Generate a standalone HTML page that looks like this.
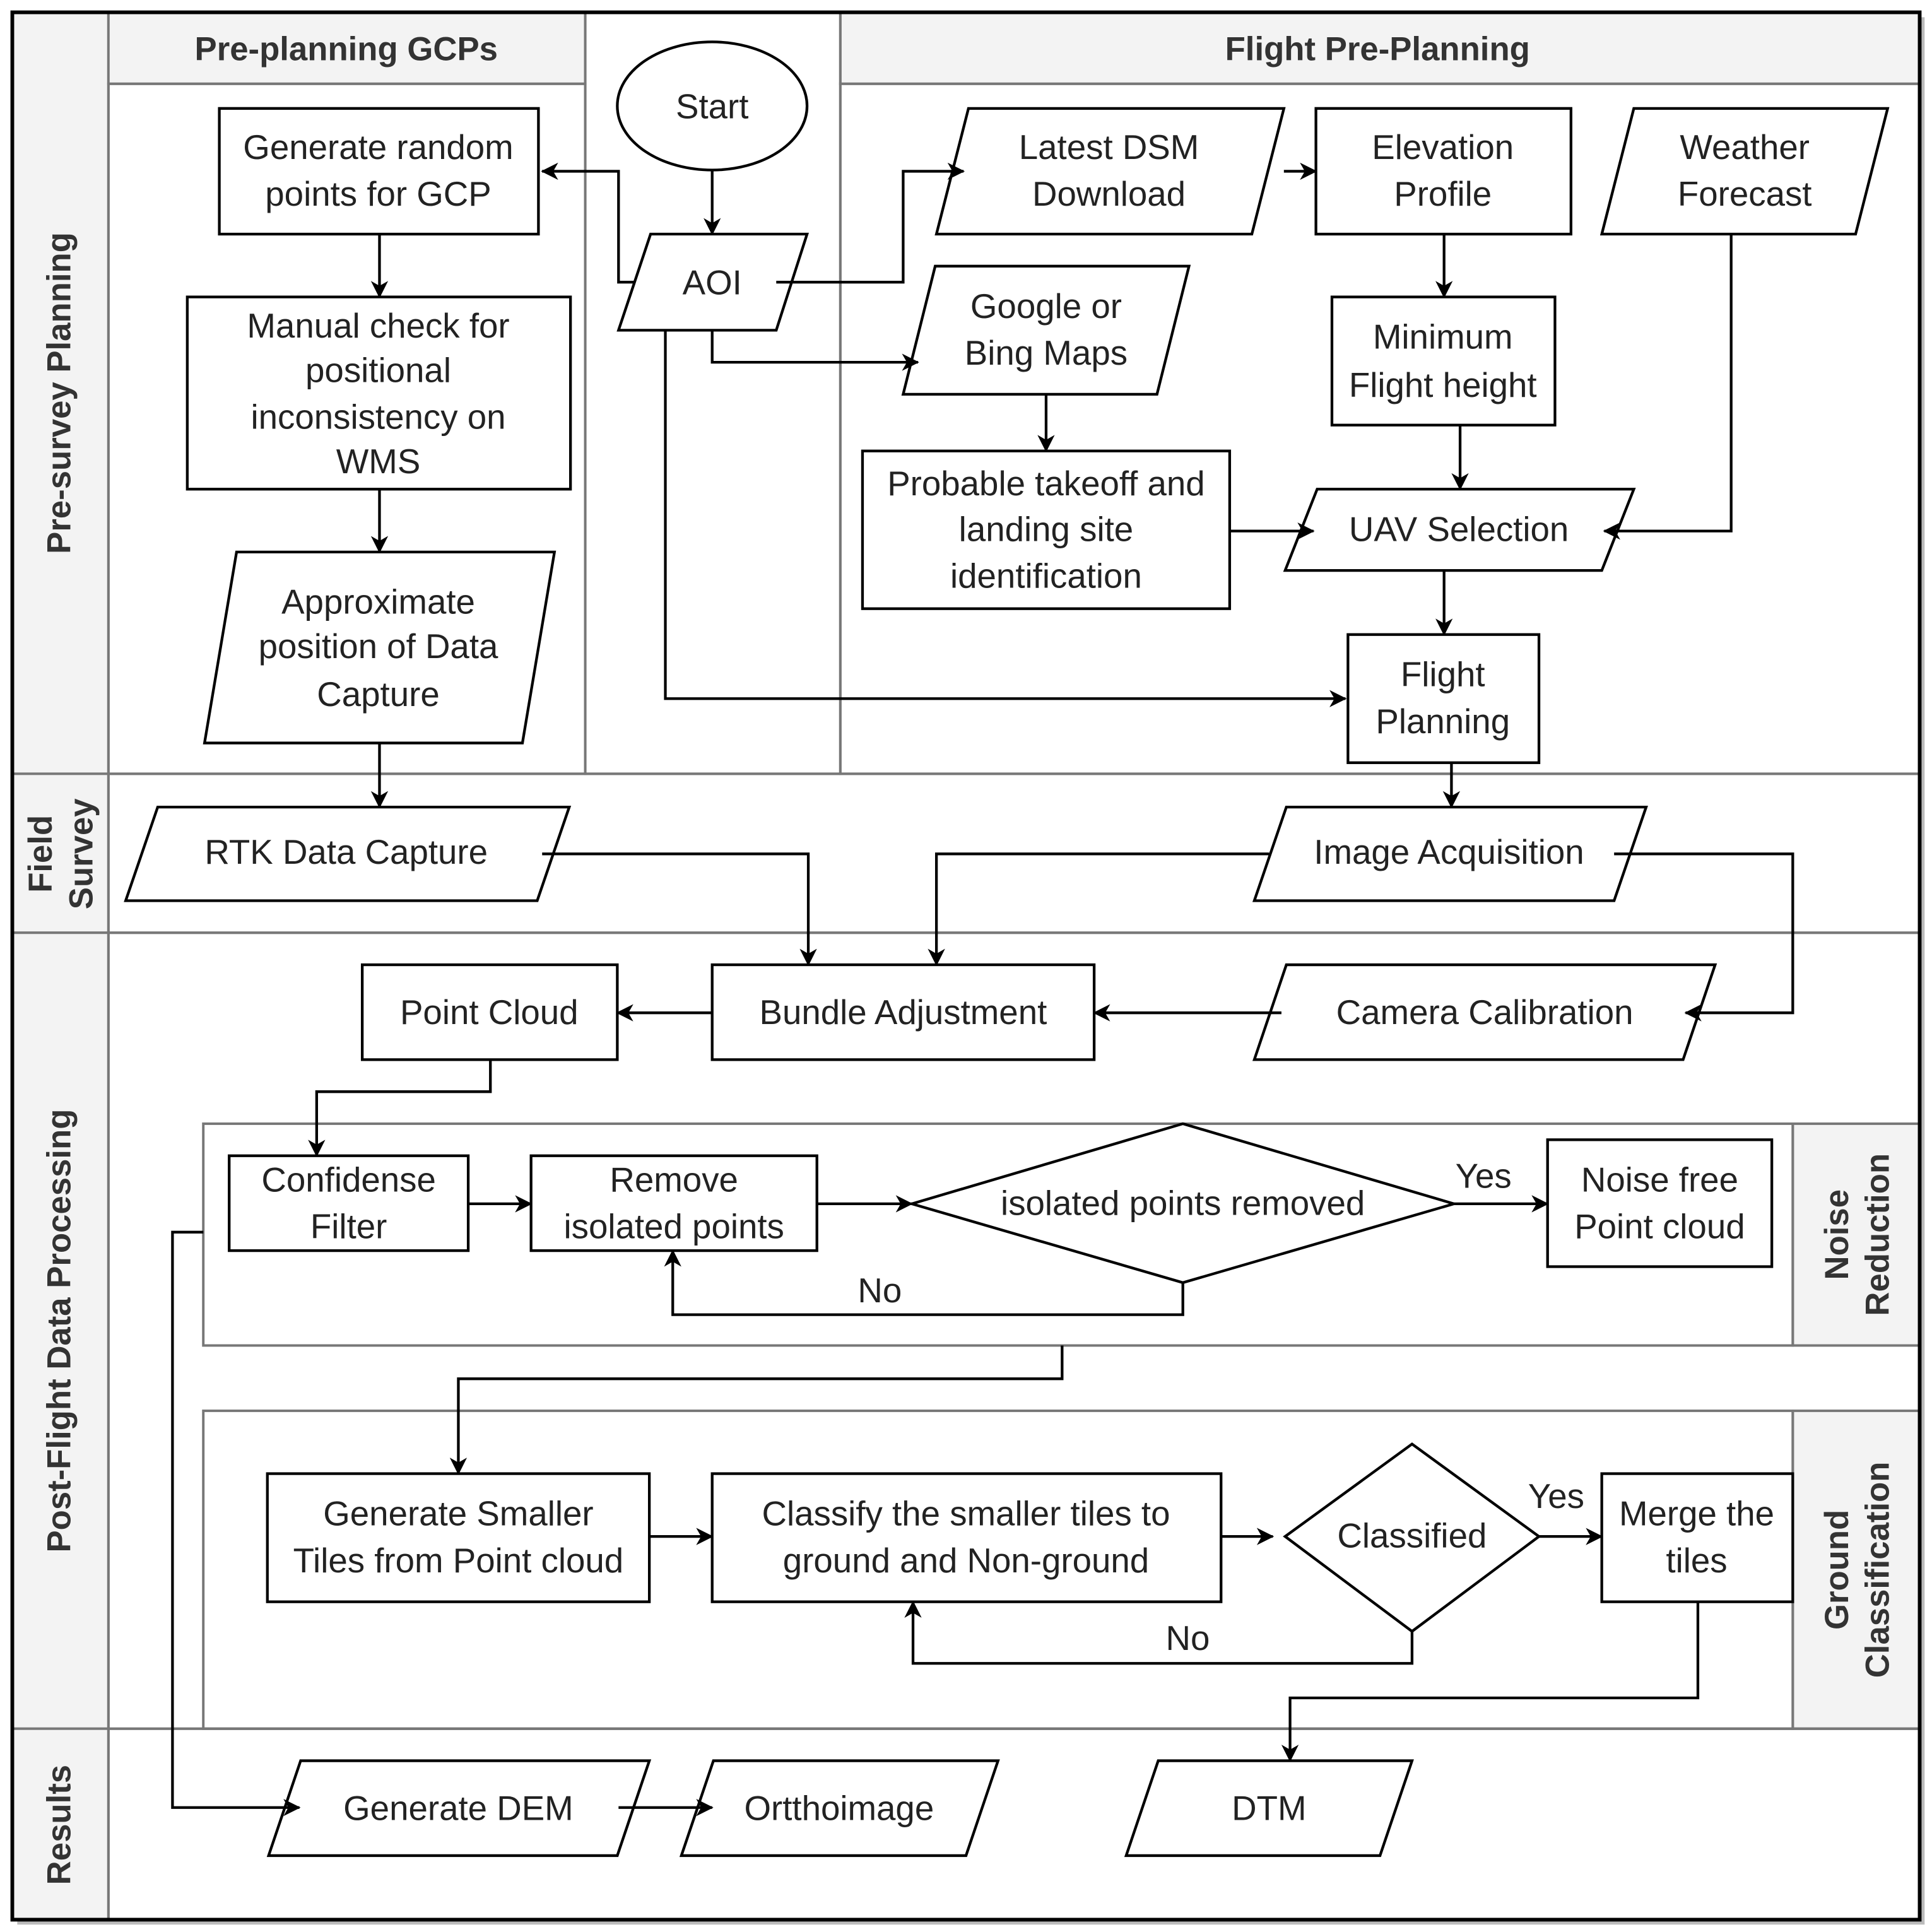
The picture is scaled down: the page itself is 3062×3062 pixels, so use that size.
<!DOCTYPE html>
<html><head><meta charset="utf-8"><style>html,body{margin:0;padding:0;background:#fff}svg{display:block}</style></head>
<body>
<svg width="3062" height="3062" viewBox="0 0 1568 1568" xmlns="http://www.w3.org/2000/svg">
<defs>
<marker id="a" markerWidth="14" markerHeight="14" refX="13" refY="7" orient="auto" markerUnits="userSpaceOnUse" viewBox="0 0 14 14">
<path d="M0,0 L14,7 L0,14 L4,7 Z" fill="#000"/></marker>
</defs>
<rect x="0" y="0" width="1568" height="1568" fill="#fff"/>
<rect x="14" y="14" width="1548" height="1548" fill="#bbb"/>
<rect x="10" y="10" width="1548" height="1548" fill="#fff"/>
<g fill="#f3f3f3" stroke="#777" stroke-width="2">
<rect x="10" y="10" width="78" height="618"/>
<rect x="10" y="628" width="78" height="129"/>
<rect x="10" y="757" width="78" height="646"/>
<rect x="10" y="1403" width="78" height="155"/>
<rect x="88" y="10" width="387" height="58"/>
<rect x="682" y="10" width="876" height="58"/>
<rect x="1455" y="912" width="103" height="180"/>
<rect x="1455" y="1145" width="103" height="258"/>
</g>
<g fill="none" stroke="#777" stroke-width="2">
<rect x="88" y="68" width="387" height="560"/>
<rect x="475" y="10" width="207" height="618"/>
<rect x="682" y="68" width="876" height="560"/>
<rect x="88" y="628" width="1470" height="129"/>
<rect x="88" y="757" width="1470" height="646"/>
<rect x="88" y="1403" width="1470" height="155"/>
<rect x="165" y="912" width="1290" height="180"/>
<rect x="165" y="1145" width="1290" height="258"/>
</g>
<rect x="10" y="10" width="1548" height="1548" fill="none" stroke="#000" stroke-width="3"/>
<g font-family="Liberation Sans, sans-serif" font-weight="bold" font-size="27" fill="#333" text-anchor="middle">
<text x="281" y="49">Pre-planning GCPs</text>
<text x="1118" y="49">Flight Pre-Planning</text>
<text transform="translate(57,319) rotate(-90)">Pre-survey Planning</text>
<text transform="translate(42,693) rotate(-90)">Field</text>
<text transform="translate(75,693) rotate(-90)">Survey</text>
<text transform="translate(57,1080) rotate(-90)">Post-Flight Data Processing</text>
<text transform="translate(57,1481) rotate(-90)">Results</text>
<text transform="translate(1500,1002) rotate(-90)">Noise</text>
<text transform="translate(1533,1002) rotate(-90)">Reduction</text>
<text transform="translate(1500,1274) rotate(-90)">Ground</text>
<text transform="translate(1533,1274) rotate(-90)">Classification</text>
</g>
<g fill="#fff" stroke="#000" stroke-width="2.2">
<ellipse cx="578" cy="86" rx="77" ry="52"/>
<rect x="178" y="88" width="259" height="102"/>
<polygon points="502,268 528,190 655,190 630,268"/>
<polygon points="760,190 786,88 1042,88 1016,190"/>
<rect x="1068" y="88" width="207" height="102"/>
<polygon points="1300,190 1326,88 1532,88 1506,190"/>
<polygon points="733,320 759,216 965,216 939,320"/>
<rect x="152" y="241" width="311" height="156"/>
<rect x="1081" y="241" width="181" height="104"/>
<rect x="700" y="366" width="298" height="128"/>
<polygon points="1043,463 1069,397 1326,397 1300,463"/>
<polygon points="166,603 192,448 450,448 424,603"/>
<rect x="1094" y="515" width="155" height="104"/>
<polygon points="102,731 128,655 462,655 436,731"/>
<polygon points="1018,731 1044,655 1336,655 1310,731"/>
<rect x="294" y="783" width="207" height="77"/>
<rect x="578" y="783" width="310" height="77"/>
<polygon points="1018,860 1044,783 1392,783 1366,860"/>
<rect x="186" y="938" width="194" height="77"/>
<rect x="431" y="938" width="232" height="77"/>
<polygon points="740,977 960,912 1180,977 960,1041"/>
<rect x="1256" y="925" width="182" height="103"/>
<rect x="217" y="1196" width="310" height="104"/>
<rect x="578" y="1196" width="413" height="104"/>
<polygon points="1043,1247 1146,1172 1249,1247 1146,1324"/>
<rect x="1300" y="1196" width="155" height="104"/>
<polygon points="218,1506 244,1429 527,1429 501,1506"/>
<polygon points="553,1506 579,1429 810,1429 784,1506"/>
<polygon points="914,1506 940,1429 1146,1429 1120,1506"/>
</g>
<g fill="none" stroke="#000" stroke-width="2.2" marker-end="url(#a)">
<path d="M578 138V190"/>
<path d="M515 229H502V139H440"/>
<path d="M630 229H733V139H782"/>
<path d="M578 268V294H745"/>
<path d="M540 268V567H1092"/>
<path d="M308 190V241"/>
<path d="M308 397V448"/>
<path d="M308 603V655"/>
<path d="M1042 139H1068"/>
<path d="M1172 190V241"/>
<path d="M1185 345V397"/>
<path d="M1405 190V431H1302"/>
<path d="M849 320V366"/>
<path d="M998 431H1066"/>
<path d="M1172 463V515"/>
<path d="M1178 619V655"/>
<path d="M440 693H656V783"/>
<path d="M1030 693H760V783"/>
<path d="M1310 693H1455V822H1368"/>
<path d="M1040 822H888"/>
<path d="M578 822H501"/>
<path d="M398 860V886H257V938"/>
<path d="M380 977H431"/>
<path d="M663 977H740"/>
<path d="M1180 977H1256"/>
<path d="M960 1041V1067H546V1015"/>
<path d="M862 1092V1119H372V1196"/>
<path d="M527 1247H578"/>
<path d="M991 1247H1033"/>
<path d="M1249 1247H1300"/>
<path d="M1146 1324V1350H741V1300"/>
<path d="M1378 1300V1378H1047V1429"/>
<path d="M165 1000H140V1467H243"/>
<path d="M502 1467H578"/>
</g>
<g font-family="Liberation Sans, sans-serif" font-size="28" fill="#222" text-anchor="middle">
<text x="578" y="96">Start</text>
<text x="307" y="129">Generate random</text><text x="307" y="167">points for GCP</text>
<text x="578" y="239">AOI</text>
<text x="900" y="129">Latest DSM</text><text x="900" y="167">Download</text>
<text x="1171" y="129">Elevation</text><text x="1171" y="167">Profile</text>
<text x="1416" y="129">Weather</text><text x="1416" y="167">Forecast</text>
<text x="849" y="258">Google or</text><text x="849" y="296">Bing Maps</text>
<text x="307" y="274">Manual check for</text><text x="307" y="310">positional</text><text x="307" y="348">inconsistency on</text><text x="307" y="384">WMS</text>
<text x="1171" y="283">Minimum</text><text x="1171" y="322">Flight height</text>
<text x="849" y="402">Probable takeoff and</text><text x="849" y="439">landing site</text><text x="849" y="477">identification</text>
<text x="1184" y="439">UAV Selection</text>
<text x="307" y="498">Approximate</text><text x="307" y="534">position of Data</text><text x="307" y="573">Capture</text>
<text x="1171" y="557">Flight</text><text x="1171" y="595">Planning</text>
<text x="281" y="701">RTK Data Capture</text>
<text x="1176" y="701">Image Acquisition</text>
<text x="397" y="831">Point Cloud</text>
<text x="733" y="831">Bundle Adjustment</text>
<text x="1205" y="831">Camera Calibration</text>
<text x="283" y="967">Confidense</text><text x="283" y="1005">Filter</text>
<text x="547" y="967">Remove</text><text x="547" y="1005">isolated points</text>
<text x="960" y="986">isolated points removed</text>
<text x="1347" y="967">Noise free</text><text x="1347" y="1005">Point cloud</text>
<text x="1204" y="964">Yes</text><text x="714" y="1057">No</text>
<text x="372" y="1238">Generate Smaller</text><text x="372" y="1276">Tiles from Point cloud</text>
<text x="784" y="1238">Classify the smaller tiles to</text><text x="784" y="1276">ground and Non-ground</text>
<text x="1146" y="1256">Classified</text>
<text x="1377" y="1238">Merge the</text><text x="1377" y="1276">tiles</text>
<text x="1263" y="1224">Yes</text><text x="964" y="1339">No</text>
<text x="372" y="1477">Generate DEM</text>
<text x="681" y="1477">Ortthoimage</text>
<text x="1030" y="1477">DTM</text>
</g>
</svg>
</body></html>
